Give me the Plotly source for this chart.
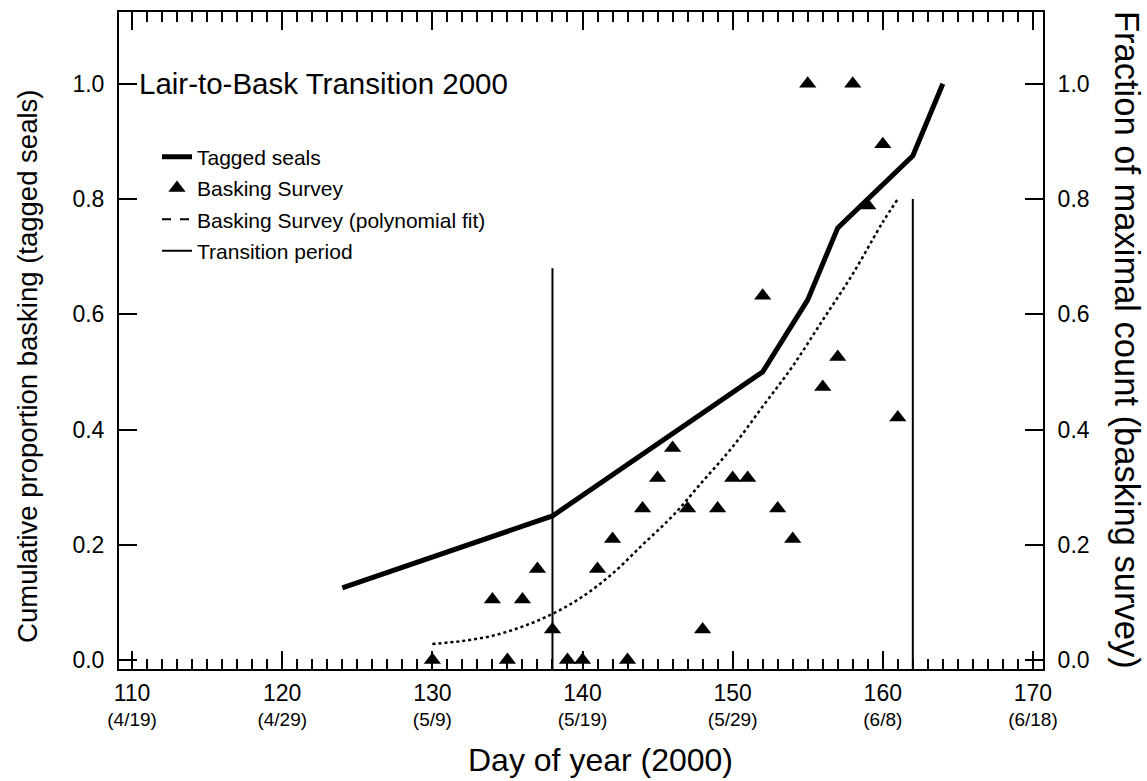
import plotly.graph_objects as go

# ---------------- data ----------------
tagged_day = [124, 138, 152, 155, 157, 162, 164]
tagged_prop = [0.125, 0.25, 0.5, 0.625, 0.75, 0.875, 1.0]

survey_day = [130, 134, 135, 136, 137, 138, 139, 140, 141, 142, 143, 144, 145, 146,
              147, 148, 149, 150, 151, 152, 153, 154, 155, 156, 157, 158, 159, 160, 161]
survey_frac = [0.0, 0.105, 0.0, 0.105, 0.158, 0.053, 0.0, 0.0, 0.158, 0.21, 0.0, 0.263,
               0.316, 0.368, 0.263, 0.053, 0.263, 0.316, 0.316, 0.632, 0.263, 0.21, 1.0,
               0.474, 0.526, 1.0, 0.789, 0.895, 0.421]

fit_day = [130, 132, 134, 136, 138, 140, 142, 144, 146, 148, 150, 152, 154, 156, 158, 160, 161]
fit_frac = [0.028, 0.033, 0.042, 0.058, 0.080, 0.110, 0.150, 0.20, 0.25, 0.31, 0.37, 0.44,
            0.51, 0.59, 0.67, 0.76, 0.80]

transition_day = [138, 162]
transition_top = [0.68, 0.80]

xtick_vals = [110, 120, 130, 140, 150, 160, 170]
xtick_dates = ["(4/19)", "(4/29)", "(5/9)", "(5/19)", "(5/29)", "(6/8)", "(6/18)"]
ytick_vals = [0.0, 0.2, 0.4, 0.6, 0.8, 1.0]

X_RANGE = [109.13, 170.67]
Y_RANGE = [-0.0156, 1.1246]

FONT = "Liberation Sans, Arial, sans-serif"

W, H = 1147, 781
ML, MT = 119, 10
PW, PH = 924, 659


def px(xp):   # page x pixel -> paper x
    return (xp - ML) / PW


def py(yp):   # page y pixel -> paper y
    return (MT + PH - yp) / PH


fig = go.Figure()

fig.add_trace(go.Scatter(
    x=tagged_day, y=tagged_prop, mode="lines", name="Tagged seals",
    line=dict(color="black", width=5), legendgroup="a"))

fig.add_trace(go.Scatter(
    x=survey_day, y=survey_frac, mode="markers", name="Basking Survey",
    marker=dict(symbol="triangle-up", size=15, color="black"),
    yaxis="y2", legendgroup="b"))

fig.add_trace(go.Scatter(
    x=fit_day, y=fit_frac, mode="lines", name="Basking Survey (polynomial fit)",
    line=dict(color="black", width=2.5, dash="dot", shape="spline"),
    yaxis="y2", showlegend=False, legendgroup="c"))
# legend entry for the fit is drawn dashed, as in the original
fig.add_trace(go.Scatter(
    x=[None], y=[None], mode="lines", name="Basking Survey (polynomial fit)",
    line=dict(color="black", width=2, dash="dash"), yaxis="y2", legendgroup="c"))

for i, (d, top) in enumerate(zip(transition_day, transition_top)):
    fig.add_trace(go.Scatter(
        x=[d, d], y=[Y_RANGE[0], top], mode="lines", name="Transition period",
        line=dict(color="black", width=2), legendgroup="d", showlegend=(i == 0),
        xaxis="x2"))

axis_common = dict(ticks="inside", tickwidth=2, tickcolor="black", showline=True,
                   linewidth=2, linecolor="black", showgrid=False, zeroline=False)

fig.update_layout(
    width=W, height=H,
    margin=dict(l=ML, r=W - ML - PW, t=MT, b=H - MT - PH, pad=0),
    paper_bgcolor="white", plot_bgcolor="white",
    font=dict(family=FONT, color="black", size=21),
    showlegend=True,
    legend=dict(x=px(197 - 40), y=py(135), xanchor="left", yanchor="top",
                bgcolor="rgba(0,0,0,0)", borderwidth=0,
                font=dict(size=21, family=FONT), traceorder="grouped",
                tracegroupgap=1),
    xaxis=dict(range=X_RANGE, tickmode="array", tickvals=xtick_vals,
               ticktext=[str(v) for v in xtick_vals],
               ticklen=18, mirror="ticks",
               minor=dict(dtick=1, ticks="inside", ticklen=10, tickwidth=2,
                          tickcolor="black", showgrid=False),
               tickfont=dict(size=23), ticklabelstandoff=2, **axis_common),
    # second bottom axis carrying the calendar-date labels
    xaxis2=dict(range=X_RANGE, overlaying="x", side="bottom", anchor="y",
                tickmode="array", tickvals=xtick_vals, ticktext=xtick_dates,
                ticks="", showline=False, showgrid=False, zeroline=False,
                tickfont=dict(size=19), ticklabelstandoff=37),
    yaxis=dict(range=Y_RANGE, tickmode="array", tickvals=ytick_vals,
               tickformat=".1f", ticklen=18, tickfont=dict(size=23),
               ticklabelstandoff=8, **axis_common),
    yaxis2=dict(range=Y_RANGE, overlaying="y", side="right", tickmode="array",
                tickvals=ytick_vals, tickformat=".1f", ticklen=18,
                tickfont=dict(size=23), ticklabelstandoff=8, **axis_common),
    annotations=[
        dict(text="Lair-to-Bask Transition 2000", xref="paper", yref="paper",
             x=px(137), y=py(82), xanchor="left", yanchor="middle",
             showarrow=False, font=dict(size=29.5, family=FONT)),
        dict(text="Cumulative proportion basking (tagged seals)", xref="paper",
             yref="paper", x=px(28), y=py(366), textangle=-90,
             xanchor="center", yanchor="middle", showarrow=False,
             font=dict(size=27.5, family=FONT)),
        dict(text="Fraction of maximal count (basking survey)", xref="paper",
             yref="paper", x=px(1127), y=py(339), textangle=90,
             xanchor="center", yanchor="middle", showarrow=False,
             font=dict(size=34.5, family=FONT)),
        dict(text="Day of year (2000)", xref="paper", yref="paper",
             x=px(600), y=py(760), xanchor="center",
             yanchor="middle", showarrow=False, font=dict(size=32, family=FONT)),
    ],
)

fig.write_html("out.html",
               config={"displayModeBar": False},
               post_script="document.body.style.margin='0px';"
                           "document.body.style.overflow='hidden';")
